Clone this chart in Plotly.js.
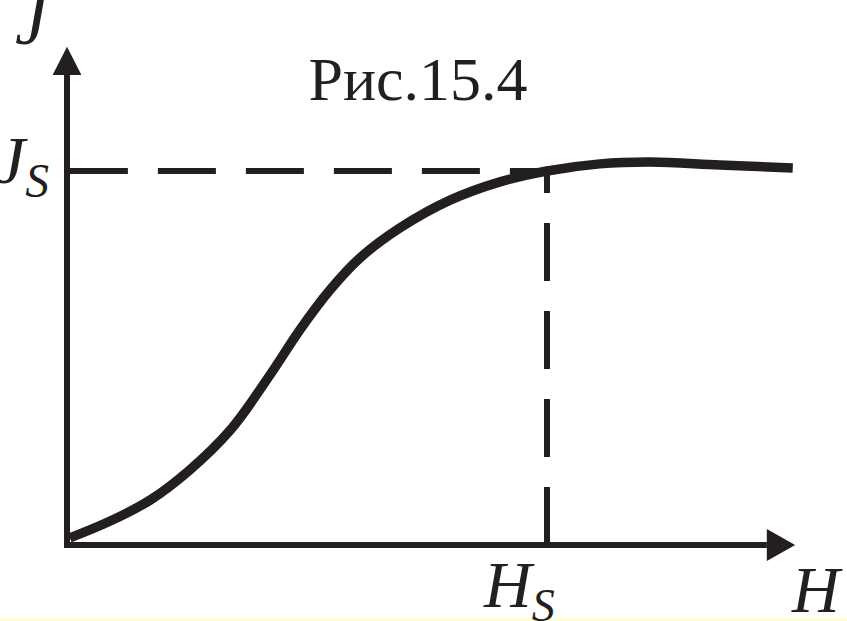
<!DOCTYPE html>
<html>
<head>
<meta charset="utf-8">
<script src="https://cdn.plot.ly/plotly-3.0.1.min.js"></script>
<style>
  body { margin: 0; background: #fff; }
  #chart text { font-family: "Liberation Serif", "Times New Roman", serif !important; }
</style>
</head>
<body>
<div id="chart"></div>
<script>
// magnetisation curve J(H), units: Hs = 1, Js = 1
const H = [0.006, 0.09, 0.173, 0.256, 0.34, 0.423, 0.485, 0.548, 0.61, 0.694, 0.798, 0.902, 1.0, 1.11, 1.215, 1.36, 1.512];
const J = [0.019, 0.064, 0.12, 0.201, 0.307, 0.455, 0.575, 0.682, 0.767, 0.848, 0.922, 0.971, 1.0, 1.019, 1.024, 1.016, 1.008];

const Hs = 1.0;
const Js = 1.0;

// axis extents
const hEnd = 1.458, hTip = 1.517;
const jEnd = 1.257, jTip = 1.332;

const ink = '#231f20';
const fam = 'Times New Roman';

const dashH = {
  x: [0.006, Hs], y: [Js, Js],
  mode: 'lines', line: {color: ink, width: 6, dash: '58px,30px'},
  hoverinfo: 'skip'
};
const dashV = {
  x: [Hs, Hs], y: [0, Js],
  mode: 'lines', line: {color: ink, width: 6, dash: '58px,30px'},
  hoverinfo: 'skip'
};
const curve = {
  x: H, y: J,
  mode: 'lines', line: {color: ink, width: 9.5, shape: 'spline', smoothing: 1.1},
  hoverinfo: 'skip'
};

const layout = {
  width: 847, height: 621,
  margin: {l: 0, r: 0, t: 0, b: 0},
  font: {family: fam, color: ink},
  paper_bgcolor: '#fff', plot_bgcolor: '#fff',
  showlegend: false,
  xaxis: {range: [-0.1396, 1.625], visible: false, fixedrange: true},
  yaxis: {range: [-0.2032, 1.4572], visible: false, fixedrange: true},
  title: {
    text: 'Рис.15.4',
    font: {family: fam, size: 62},
    x: 418 / 847, xanchor: 'center', xref: 'paper',
    y: 1 - 78 / 621, yanchor: 'middle', yref: 'container'
  },
  shapes: [
    {type: 'rect', xref: 'paper', yref: 'paper', x0: 0, x1: 1, y0: 0, y1: 3 / 621,
     fillcolor: '#ffffd6', line: {width: 0}, layer: 'below'},
    {type: 'line', xref: 'x', yref: 'y', x0: 0, x1: 0, y0: -0.008, y1: jEnd,
     line: {color: ink, width: 6}},
    {type: 'line', xref: 'x', yref: 'y', x0: -0.006, x1: hEnd, y0: 0, y1: 0,
     line: {color: ink, width: 6}},
    {type: 'path', xref: 'x', yref: 'y',
     path: `M -0.030 ${jEnd} L 0 ${jTip} L 0.030 ${jEnd} Z`,
     fillcolor: ink, line: {width: 0}},
    {type: 'path', xref: 'x', yref: 'y',
     path: `M ${hEnd} -0.043 L ${hTip} 0 L ${hEnd} 0.043 Z`,
     fillcolor: ink, line: {width: 0}}
  ],
  annotations: [
    {text: '<i>J</i>', x: -0.071, y: 1.405, xref: 'x', yref: 'y',
     xanchor: 'center', yanchor: 'middle', showarrow: false,
     font: {family: fam, size: 72}},
    {text: '<i>J<sub>S</sub></i>', x: -0.094, y: Js, xref: 'x', yref: 'y',
     xanchor: 'center', yanchor: 'middle', showarrow: false, yshift: 7,
     font: {family: fam, size: 68}},
    {text: '<i>H<sub>S</sub></i>', x: Hs - 0.058, y: -0.12, xref: 'x', yref: 'y',
     xanchor: 'center', yanchor: 'middle', showarrow: false,
     font: {family: fam, size: 66}},
    {text: '<i>H</i>', x: 1.5625, y: -0.12, xref: 'x', yref: 'y',
     xanchor: 'center', yanchor: 'middle', showarrow: false,
     font: {family: fam, size: 66}}
  ]
};

Plotly.newPlot('chart', [dashH, dashV, curve], layout, {displayModeBar: false, staticPlot: true});
</script>
</body>
</html>
